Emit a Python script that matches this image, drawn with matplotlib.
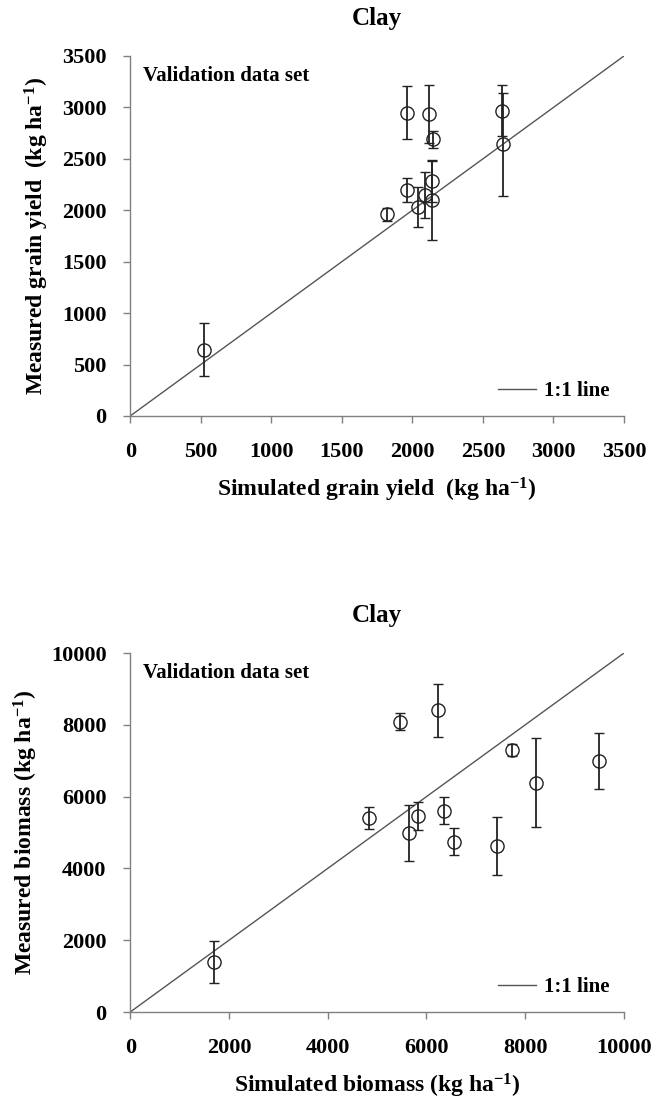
import numpy as np
import matplotlib
matplotlib.use("Agg")
import matplotlib.pyplot as plt

# Fuente tipo Times en negrita para todo el gráfico
plt.rcParams['font.family'] = ['Liberation Serif', 'DejaVu Serif']
plt.rcParams['font.weight'] = 'bold'
plt.rcParams['mathtext.fontset'] = 'custom'
plt.rcParams['mathtext.rm'] = 'Liberation Serif:bold'
plt.rcParams['mathtext.bf'] = 'Liberation Serif:bold'
plt.rcParams['mathtext.default'] = 'bf'

# Datos: rendimiento de grano (arcilla)
grano_sim = [520, 1820, 1960, 2115, 2147, 2637, 2639, 1962, 2040, 2087, 2140, 2140]
grano_med = [645, 1960, 2950, 2935, 2690, 2970, 2640, 2195, 2035, 2145, 2280, 2100]
grano_err = [260, 60, 260, 280, 85, 245, 500, 115, 195, 225, 200, 390]

# Datos: biomasa (arcilla)
bio_sim = [1690, 4830, 5640, 5830, 6360, 6550, 7435, 5470, 6225, 7730, 8210, 9495]
bio_med = [1400, 5410, 5000, 5470, 5610, 4745, 4630, 8090, 8410, 7300, 6390, 6990]
bio_err = [590, 305, 780, 390, 375, 370, 810, 240, 735, 170, 1240, 770]

gris = '#808080'
fig = plt.figure(figsize=(6.61, 11.11), dpi=100)

paneles = [
    ([0.197, 0.6256, 0.747, 0.3240], grano_sim, grano_med, grano_err, 3500, 500,
     'Simulated grain yield  (kg ha$^{-1}$)', 'Measured grain yield  (kg ha$^{-1}$)'),
    ([0.197, 0.0891, 0.747, 0.3231], bio_sim, bio_med, bio_err, 10000, 2000,
     'Simulated biomass (kg ha$^{-1}$)', 'Measured biomass (kg ha$^{-1}$)'),
]

for rect, xs, ys, es, lim, paso, xlab, ylab in paneles:
    ax = fig.add_axes(rect)
    # Línea 1:1
    ax.plot([0, lim], [0, lim], color='#555555', lw=1.0, label='1:1 line')
    # Puntos con barras de error
    ax.errorbar(xs, ys, yerr=es, fmt='o', mfc='none', mec='#222222', ms=9.5,
                mew=1.0, ecolor='#222222', elinewidth=1.3, capsize=3.5, capthick=1.3)
    ax.set_xlim(0, lim)
    ax.set_ylim(0, lim)
    ax.set_xticks(np.arange(0, lim + 1, paso))
    ax.set_yticks(np.arange(0, lim + 1, paso))
    for s in ['top', 'right']:
        ax.spines[s].set_visible(False)
    for s in ['left', 'bottom']:
        ax.spines[s].set_color(gris)
        ax.spines[s].set_linewidth(1.0)
    ax.tick_params(direction='out', length=5, width=1.0, color=gris, labelsize=16)
    ax.tick_params(axis='x', pad=14)
    ax.tick_params(axis='y', pad=12)
    for lab in ax.get_xticklabels() + ax.get_yticklabels():
        lab.set_fontweight('bold')
    ax.set_xlabel(xlab, fontsize=17, fontweight='bold', labelpad=10)
    ax.set_ylabel(ylab, fontsize=17, fontweight='bold', labelpad=8)
    ax.set_title('Clay', fontsize=18, fontweight='bold', pad=22)
    ax.text(0.025, 0.945, 'Validation data set', transform=ax.transAxes,
            fontsize=15, fontweight='bold', va='center', ha='left')
    ax.legend(loc='lower right', frameon=False, handlelength=1.8,
              handletextpad=0.4, borderaxespad=0.3,
              prop={'weight': 'bold', 'size': 15})

fig.savefig('out.png', dpi=100)
